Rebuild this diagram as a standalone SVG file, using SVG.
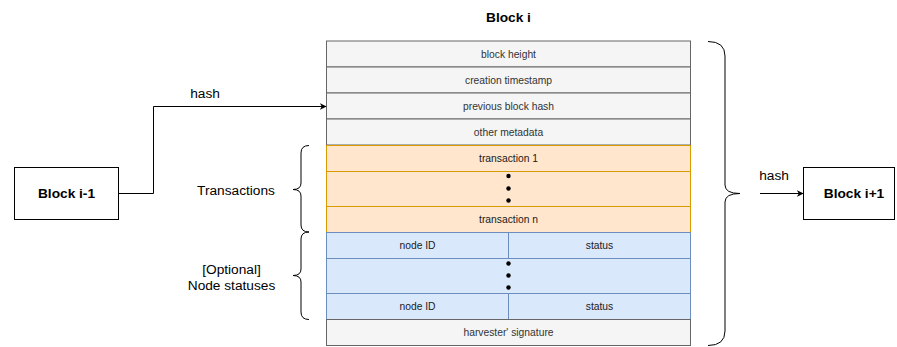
<svg xmlns="http://www.w3.org/2000/svg" width="897" height="347" viewBox="0 0 897 347">
  <style>
    text { font-family: "Liberation Sans", Arial, sans-serif; text-anchor: middle; }
    .row { font-size: 10.3px; fill: #333333; }
    .rowd { font-size: 10.3px; fill: #1a1a1a; }
    .lbl { font-size: 13.7px; fill: #000000; }
    .bold { font-size: 13.7px; font-weight: bold; fill: #000000; }
    .gray { fill: #f5f5f5; stroke: #666666; stroke-width: 1; }
    .orange { fill: #ffe6cc; stroke: #d79b00; stroke-width: 1; }
    .blue { fill: #dae8fc; stroke: #6c8ebf; stroke-width: 1; }
    .box { fill: #ffffff; stroke: #000000; stroke-width: 1; }
    .wire { fill: none; stroke: #000000; stroke-width: 1; }
    .brace { fill: none; stroke: #000000; stroke-width: 1; }
  </style>
  <defs>
    <marker id="arrow" viewBox="0 0 10 10" refX="9" refY="5" markerWidth="7" markerHeight="7" markerUnits="userSpaceOnUse" orient="auto">
      <path d="M0,0 L10,5 L0,10 L3,5 Z" fill="#000000"/>
    </marker>
  </defs>

  <rect width="897" height="347" fill="#ffffff"/>

  <!-- block title -->
  <text class="bold" x="508.5" y="22">Block i</text>

  <!-- block i structure -->
  <g id="block-i">
    <rect class="gray" x="326.5" y="41" width="364" height="26"/>
    <text class="row" x="508.5" y="57.5">block height</text>
    <rect class="gray" x="326.5" y="67" width="364" height="26"/>
    <text class="row" x="508.5" y="83.5">creation timestamp</text>
    <rect class="gray" x="326.5" y="93" width="364" height="26"/>
    <text class="row" x="508.5" y="109.5">previous block hash</text>
    <rect class="gray" x="326.5" y="119" width="364" height="26"/>
    <text class="row" x="508.5" y="135.5">other metadata</text>

    <rect class="orange" x="326.5" y="145.5" width="364" height="26"/>
    <text class="rowd" x="508.5" y="162">transaction 1</text>
    <rect class="orange" x="326.5" y="171.5" width="364" height="35"/>
    <circle cx="508.5" cy="176" r="2.2" fill="#000"/>
    <circle cx="508.5" cy="188.5" r="2.2" fill="#000"/>
    <circle cx="508.5" cy="200.5" r="2.2" fill="#000"/>
    <rect class="orange" x="326.5" y="206.5" width="364" height="26"/>
    <text class="rowd" x="508.5" y="223">transaction n</text>

    <rect class="blue" x="326.5" y="232.5" width="182" height="26"/>
    <text class="rowd" x="417.5" y="249">node ID</text>
    <rect class="blue" x="508.5" y="232.5" width="182" height="26"/>
    <text class="rowd" x="599.5" y="249">status</text>
    <rect class="blue" x="326.5" y="258.5" width="364" height="35"/>
    <circle cx="508.5" cy="263.5" r="2.2" fill="#000"/>
    <circle cx="508.5" cy="275.5" r="2.2" fill="#000"/>
    <circle cx="508.5" cy="287.5" r="2.2" fill="#000"/>
    <rect class="blue" x="326.5" y="293.5" width="182" height="26"/>
    <text class="rowd" x="417.5" y="310">node ID</text>
    <rect class="blue" x="508.5" y="293.5" width="182" height="26"/>
    <text class="rowd" x="599.5" y="310">status</text>

    <rect class="gray" x="326.5" y="319.5" width="364" height="26"/>
    <text class="row" x="508.5" y="336">harvester' signature</text>
  </g>

  <g id="block-prev">
    <rect class="box" x="14.5" y="167.5" width="104" height="52"/>
    <text class="bold" x="66.5" y="198">Block i-1</text>
  </g>

  <g id="block-next">
    <rect class="box" x="803.5" y="167.5" width="91" height="52"/>
    <text class="bold" x="854" y="198">Block i+1</text>
  </g>

  <g id="brace-transactions">
    <path class="brace" d="M309,145.5 Q301,145.5 301,153 L301,183 Q301,189.5 293,189.5 Q301,189.5 301,196 L301,225 Q301,232 309,232"/>
    <text class="lbl" x="236" y="194.5">Transactions</text>
  </g>

  <g id="brace-statuses">
    <path class="brace" d="M309,232 Q301,232 301,239 L301,269 Q301,275.5 293,275.5 Q301,275.5 301,282 L301,312 Q301,319.5 309,319.5"/>
    <text class="lbl" x="231.5" y="274">[Optional]</text>
    <text class="lbl" x="231.5" y="289.5">Node statuses</text>
  </g>

  <g id="brace-block">
    <path class="brace" d="M708,41.5 Q725,41.5 725,56 L725,185 Q725,193.5 740,193.5 Q725,193.5 725,202 L725,331 Q725,345.5 708,345.5"/>
  </g>

  <!-- connectors -->
  <g id="connectors">
    <path class="wire" d="M118.5,193.5 L153.5,193.5 L153.5,106.5 L326,106.5" marker-end="url(#arrow)"/>
    <text class="lbl" x="205" y="98">hash</text>
    <path class="wire" d="M760,193.5 L803,193.5" marker-end="url(#arrow)"/>
    <text class="lbl" x="774" y="180">hash</text>
  </g>
</svg>
